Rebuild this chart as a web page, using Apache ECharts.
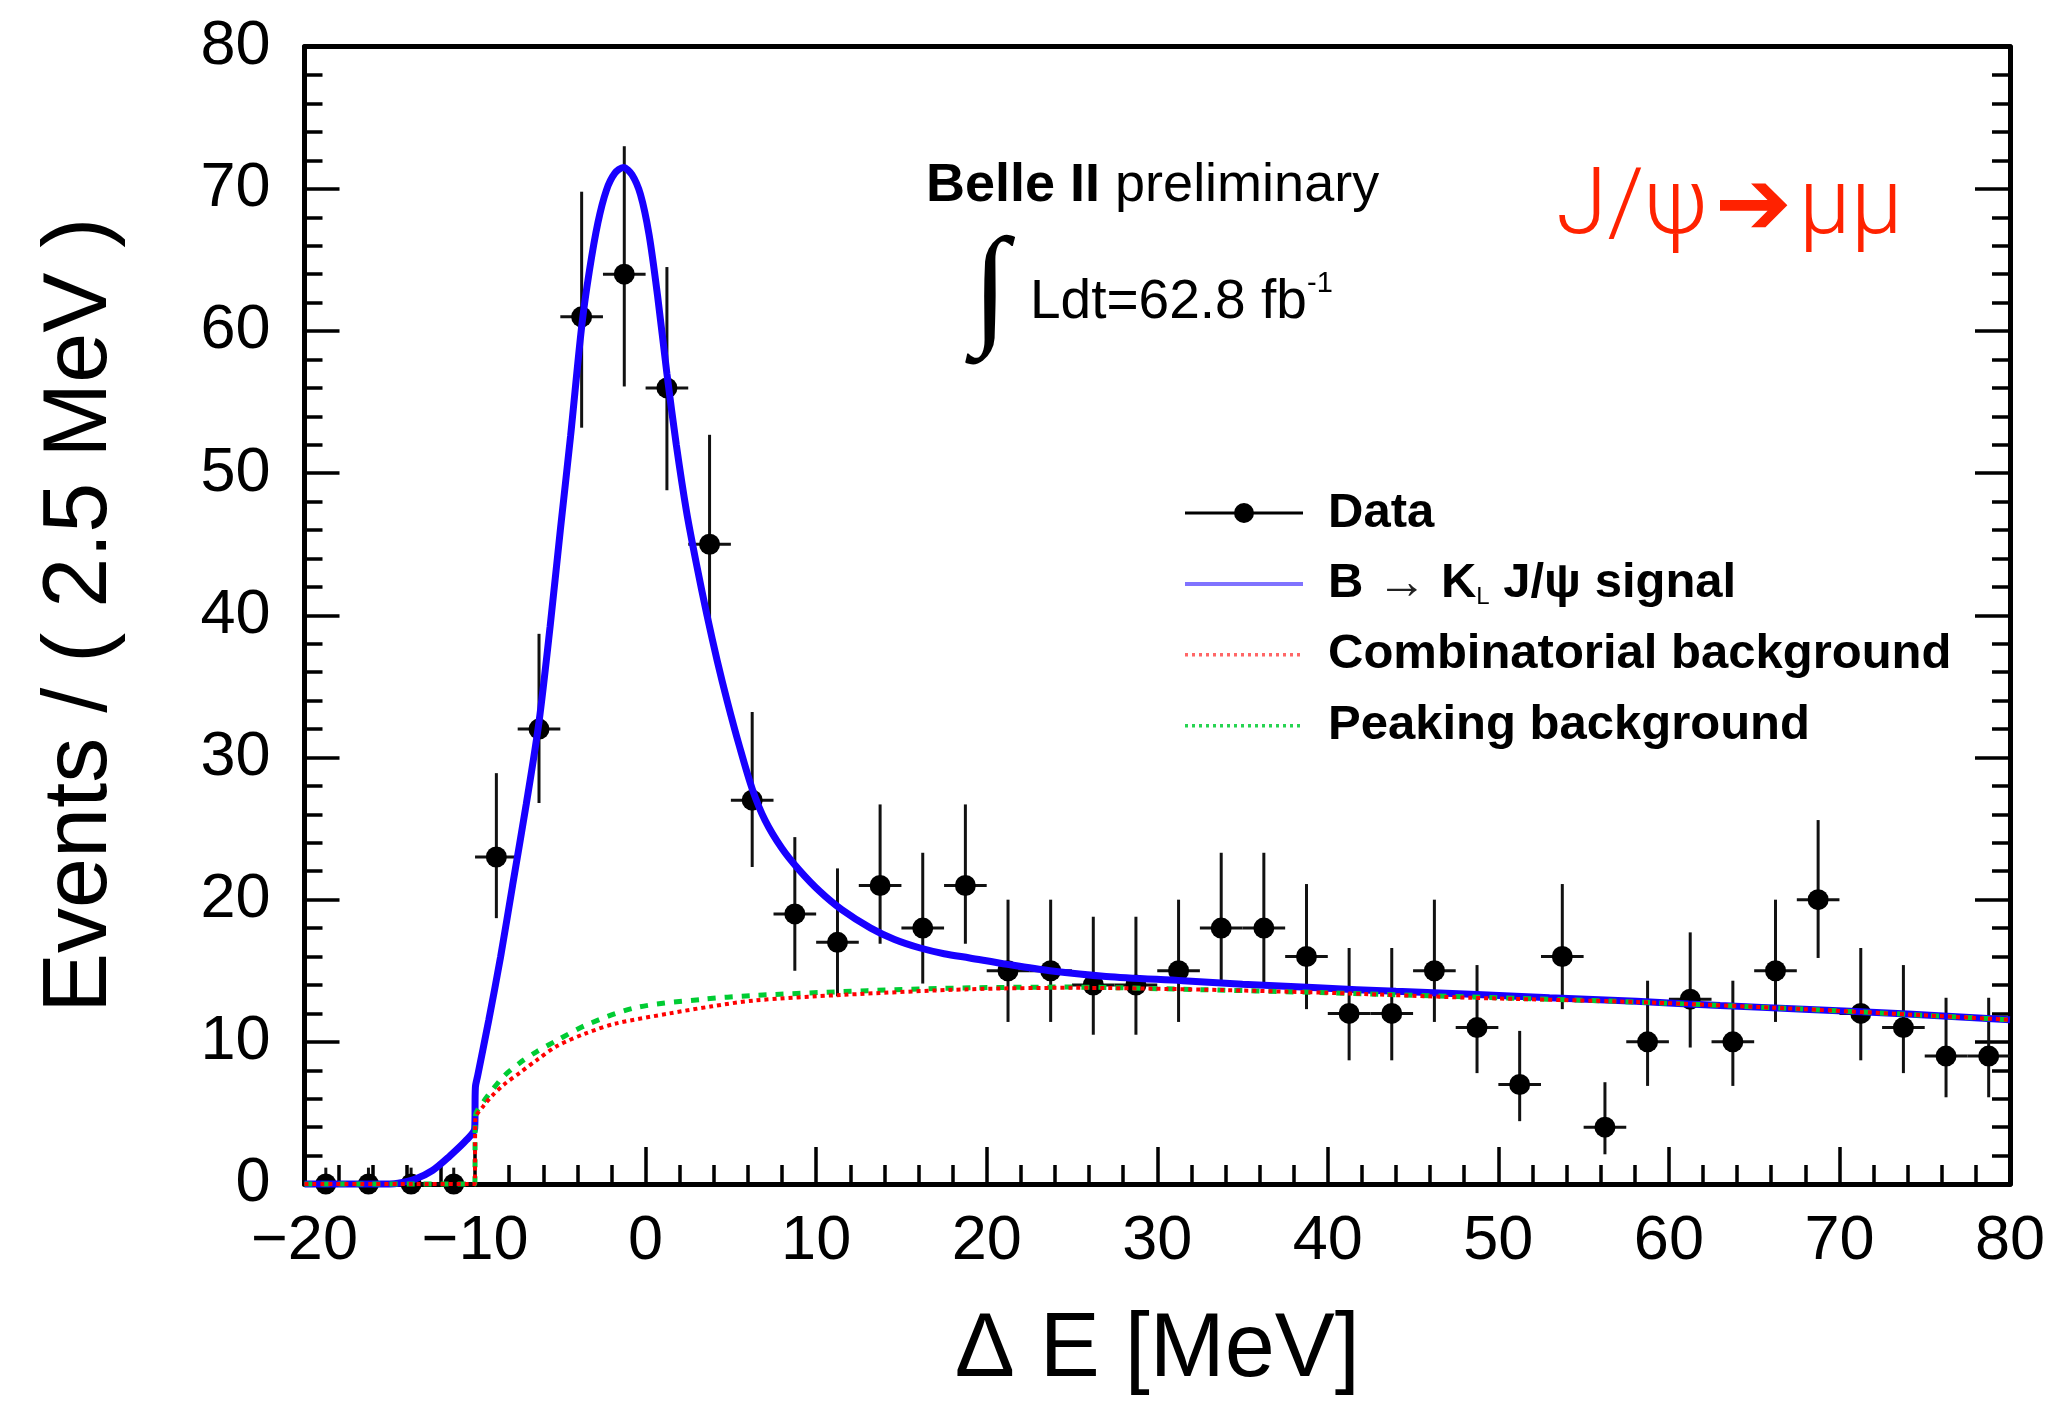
<!DOCTYPE html>
<html><head><meta charset="utf-8">
<script src="https://cdn.jsdelivr.net/npm/echarts@6/dist/echarts.min.js"></script>
<style>html,body{margin:0;padding:0;background:#fff}#c{width:2056px;height:1401px}</style>
</head><body><div id="c"></div>
<script>
// ---- data ----
const BIN_WIDTH = 2.5; // MeV
const binCenters = [-18.75,-16.25,-13.75,-11.25,-8.75,-6.25,-3.75,-1.25,1.25,3.75,6.25,8.75,11.25,13.75,16.25,18.75,21.25,23.75,26.25,28.75,31.25,33.75,36.25,38.75,41.25,43.75,46.25,48.75,51.25,53.75,56.25,58.75,61.25,63.75,66.25,68.75,71.25,73.75,76.25,78.75];
const counts = [0,0,0,0,23,32,61,64,56,45,27,19,17,21,18,21,15,15,14,14,15,18,18,16,12,12,15,11,7,16,4,10,13,10,15,20,12,11,9,9];
const errLow = [0,0,0,0,18.7,26.8,53.2,56.1,48.8,38.6,22.3,15.0,13.2,16.9,14.1,16.9,11.4,11.4,10.5,10.5,11.4,14.1,14.1,12.3,8.7,8.7,11.4,7.8,4.42,12.3,2.09,6.9,9.6,6.9,11.4,15.9,8.7,7.8,6.1,6.1];
const errHigh = [1.15,1.15,1.15,1.15,28.9,38.7,69.8,73.0,64.5,52.7,33.2,24.4,22.2,26.7,23.3,26.7,20.0,20.0,18.8,18.8,20.0,23.3,23.3,21.1,16.6,16.6,20.0,15.4,10.77,21.1,7.16,14.3,17.7,14.3,20.0,25.6,16.6,15.4,13.1,13.1];

const signalCurve = [[-20,0],[-15,0],[-14.5,0.05],[-13.5,0.35],[-12.5,0.95],[-11.5,1.95],[-10.5,3.1],[-10.02,3.9],[-9.98,6.8],[-9.85,7.6],[-9.2,11.5],[-8.5,16.0],[-7.8,21.0],[-7.0,26.7],[-6.25,32.5],[-5.6,39.2],[-5.0,46.0],[-4.4,52.6],[-3.75,60.3],[-3.3,64.2],[-2.8,67.6],[-2.3,69.9],[-1.8,71.1],[-1.3,71.5],[-0.8,71.0],[-0.3,69.6],[0.2,66.8],[0.7,62.5],[1.25,57.0],[1.8,52.0],[2.4,47.3],[3.0,43.5],[3.6,40.0],[4.2,36.8],[4.8,33.9],[5.5,30.8],[6.25,27.8],[7.0,25.6],[8.0,23.6],[9.0,22.1],[10.2,20.6],[11.5,19.3],[13.2,18.0],[14.6,17.2],[16.1,16.6],[17.5,16.2],[19.0,15.9],[21.2,15.45],[23.7,15.0],[27.0,14.6],[31.5,14.3],[35.0,14.05],[39.4,13.8],[44.0,13.55],[48.4,13.35],[53.0,13.1],[58.1,12.85],[63.0,12.55],[67.9,12.3],[74.0,11.95],[80,11.55]];
const combCurve = [[-20,0],[-10.02,0],[-9.98,4.6],[-9.5,5.5],[-9.0,6.2],[-8.3,7.0],[-7.4,7.8],[-6.4,8.7],[-5.2,9.7],[-3.5,10.6],[-1.7,11.3],[1.4,12.0],[3.9,12.5],[6.3,12.9],[11.5,13.3],[19,13.7],[25,13.8],[31.5,13.7],[40,13.45],[48.4,13.1],[58.1,12.8],[67.9,12.3],[80,11.55]];
const peakCurve = [[-20,0],[-10.02,0],[-9.98,4.8],[-9.5,5.8],[-9.0,6.6],[-8.3,7.6],[-7.4,8.5],[-6.4,9.3],[-5.2,10.1],[-3.45,11.2],[-0.6,12.4],[3.4,13.0],[6.2,13.25],[13,13.6],[19,13.8],[25,13.85],[31.5,13.7],[40,13.45],[48.4,13.15],[58.1,12.8],[67.9,12.3],[80,11.55]];

const SIG = 'B → KL J/ψ signal';
const COMB = 'Combinatorial background';
const PEAK = 'Peaking background';

// ---- chart ----
const FF = '"Liberation Sans", Arial, Helvetica, sans-serif';
const chart = echarts.init(document.getElementById('c'), null, {renderer:'canvas'});
const minusFmt = v => (v < 0 ? '\u2212' + Math.abs(v) : String(v));
const tickStyle = {color:'#000', width:3.5};
const DATA_ICON = 'path://M0,8.5L118,8.5L118,11.5L0,11.5Z M59,0A10,10 0 1 1 59,20A10,10 0 1 1 59,0Z';

const option = {
  backgroundColor:'#fff',
  animation:false,
  grid:{left:304.5, right:46, top:46.7, bottom:206, containLabel:false},
  xAxis:[{
    type:'value', min:-20, max:80, interval:10, position:'bottom',
    name:'Δ E [MeV]', nameLocation:'middle', nameGap:122,
    nameTextStyle:{fontSize:90, fontFamily:FF, color:'#000'},
    axisLine:{onZero:false, lineStyle:{color:'#000', width:5}},
    axisTick:{inside:true, length:37, lineStyle:tickStyle},
    minorTick:{show:true, splitNumber:5, length:19, lineStyle:tickStyle},
    axisLabel:{fontSize:63, fontFamily:FF, color:'#000', margin:26, formatter:minusFmt},
    splitLine:{show:false}, minorSplitLine:{show:false}
  },{
    type:'value', min:-20, max:80, position:'top',
    axisLine:{onZero:false, lineStyle:{color:'#000', width:5}},
    axisTick:{show:false}, axisLabel:{show:false}, splitLine:{show:false}
  }],
  yAxis:[{
    type:'value', min:0, max:80, interval:10, position:'left',
    name:'Events / ( 2.5 MeV )', nameLocation:'middle', nameGap:178,
    nameTextStyle:{fontSize:90, fontFamily:FF, color:'#000'},
    axisLine:{onZero:false, lineStyle:{color:'#000', width:5}},
    axisTick:{inside:true, length:35, lineStyle:tickStyle},
    minorTick:{show:true, splitNumber:5, length:18, lineStyle:tickStyle},
    axisLabel:{fontSize:63, fontFamily:FF, color:'#000', margin:34},
    splitLine:{show:false}
  },{
    type:'value', min:0, max:80, interval:10, position:'right',
    axisLine:{onZero:false, lineStyle:{color:'#000', width:5}},
    axisTick:{inside:true, length:35, lineStyle:tickStyle},
    minorTick:{show:true, splitNumber:5, length:18, lineStyle:tickStyle},
    axisLabel:{show:false}, splitLine:{show:false}
  }],
  legend:{
    orient:'vertical', left:1183, top:488, padding:0, itemGap:20.9,
    itemWidth:118, itemHeight:20, selectedMode:false,
    formatter: name => name === SIG ? '{b|B }{r|→ }{b|K}{s|L}{b| J/ψ signal}' : name,
    textStyle:{fontFamily:FF, fontWeight:'bold', fontSize:49, lineHeight:50, color:'#000', padding:[0,0,0,20],
      rich:{
        b:{fontFamily:FF, fontWeight:'bold', fontSize:49, lineHeight:50, color:'#000'},
        r:{fontFamily:FF, fontWeight:'normal', fontSize:50, lineHeight:50, color:'#222'},
        s:{fontFamily:FF, fontWeight:'normal', fontSize:24, lineHeight:4, verticalAlign:'bottom', color:'#000'}
      }},
    data:[
      {name:'Data', icon:DATA_ICON},
      {name:SIG, lineStyle:{width:4, opacity:0.55}, itemStyle:{opacity:0}},
      {name:COMB, lineStyle:{width:3.5, opacity:0.6, type:[3,4]}, itemStyle:{opacity:0}},
      {name:PEAK, lineStyle:{width:3.5, opacity:0.85, type:[3,4]}, itemStyle:{opacity:0}}
    ]
  },
  graphic:[
    {type:'text', x:926, y:186, z:100, style:{
      text:'{b|Belle II }{n|preliminary}', verticalAlign:'middle', align:'left',
      rich:{b:{font:'bold 54px ' + FF, fill:'#000'}, n:{font:'54px ' + FF, fill:'#000'}}}},
    {type:'text', x:990, y:294, z:100, style:{text:'∫', font:'132px "Liberation Serif", "DejaVu Serif", serif', fill:'#000', align:'center', verticalAlign:'middle'}},
    {type:'text', x:1030, y:303, z:100, style:{text:'Ldt=62.8 fb', font:'55px ' + FF, fill:'#000', align:'left', verticalAlign:'middle'}},
    {type:'text', x:1307, y:284, z:100, style:{text:'-1', font:'29px ' + FF, fill:'#000', align:'left', verticalAlign:'middle'}},
    {type:'text', x:1556, y:210, z:100, style:{
      text:'{t|J/ψ}{a|➔}{t|μμ}', align:'left', verticalAlign:'middle',
      rich:{
        t:{font:'300 93px Roboto, "Noto Sans", sans-serif', fill:'#ff2200'},
        a:{font:'92px "DejaVu Sans", sans-serif', fill:'#ff2200', padding:[0,7,0,7]}
      }}}
  ],
  series:[
    {
      type:'custom', name:'Data', z:2, clip:false,
      itemStyle:{color:'#000'},
      encode:{x:0, y:1},
      data: binCenters.map((c,i) => [c, counts[i], errLow[i], errHigh[i]]),
      renderItem:(params, api) => {
        const x = api.value(0), y = api.value(1), lo = api.value(2), hi = api.value(3);
        const half = BIN_WIDTH / 2;
        const pc = api.coord([x, y]);
        const pl = api.coord([x - half, y]);
        const pr = api.coord([x + half, y]);
        const plo = api.coord([x, lo]);
        const phi = api.coord([x, hi]);
        const st = {stroke:'#111', lineWidth:3};
        return {type:'group', children:[
          {type:'line', shape:{x1:plo[0], y1:plo[1], x2:phi[0], y2:phi[1]}, style:st},
          {type:'line', shape:{x1:pl[0], y1:pl[1], x2:pr[0], y2:pr[1]}, style:st},
          {type:'circle', shape:{cx:pc[0], cy:pc[1], r:10.5}, style:{fill:'#000'}}
        ]};
      }
    },
    {type:'line', name:SIG, data:signalCurve, symbol:'none', showSymbol:false, z:3, clip:false,
      smooth:0.3,
      lineStyle:{color:'#1800ff', width:7}, itemStyle:{color:'#1800ff'}},
    {type:'line', name:PEAK, data:peakCurve, symbol:'none', showSymbol:false, z:4, clip:false,
      smooth:0.3,
      lineStyle:{color:'#00cc33', width:5, type:[8,9]}, itemStyle:{color:'#00cc33'}},
    {type:'line', name:COMB, data:combCurve, symbol:'none', showSymbol:false, z:5, clip:false,
      smooth:0.3,
      lineStyle:{color:'#ff0000', width:4, type:[4,4]}, itemStyle:{color:'#ff0000'}}
  ]
};
chart.setOption(option);
</script>
</body></html>
